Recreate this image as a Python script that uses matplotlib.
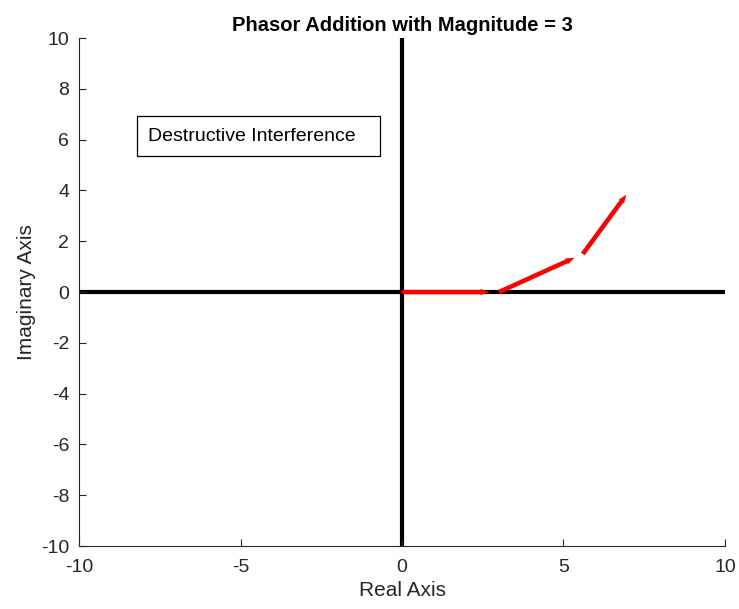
import numpy as np
import matplotlib
matplotlib.use("Agg")
import matplotlib.pyplot as plt
from matplotlib.patches import Rectangle

plt.rcParams['font.family'] = ['Liberation Sans', 'DejaVu Sans']
plt.rcParams['axes.unicode_minus'] = False

# phasors: magnitude and angle (degrees), drawn head-to-tail
magnitudes = [3, 3, 3]
angles_deg = [0, 30, 60]
title = "Phasor Addition with Magnitude = 3"
note = "Destructive Interference"
ticks = [-10, -5, 0, 5, 10]
yticks = list(range(-10, 11, 2))

mag = np.array(magnitudes, dtype=float)
ang = np.deg2rad(angles_deg)
u = mag * np.cos(ang)
v = mag * np.sin(ang)
x0 = np.concatenate([[0], np.cumsum(u)[:-1]])
y0 = np.concatenate([[0], np.cumsum(v)[:-1]])

fig = plt.figure(figsize=(7.39, 6.09), dpi=100)
ax = fig.add_axes([0.107, 0.1034, 0.874, 0.834])

# axes cross
ax.plot([-10, 10], [0, 0], color='black', lw=3, zorder=1)
ax.plot([0, 0], [-10, 10], color='black', lw=3, zorder=1)

# MATLAB quiver autoscale ~0.9
ax.quiver(x0, y0, u, v, angles='xy', scale_units='xy', scale=1 / 0.9,
          color='red', width=0.007, headwidth=1.5, headlength=2.0,
          headaxislength=1.8, zorder=3)

# annotation box
ax.add_patch(Rectangle((-8.2, 5.35), 7.52, 1.58, fc='white', ec='black',
                       lw=0.9, zorder=2))
ax.text(-7.86, 6.14, note, fontsize=14, va='center', ha='left', zorder=4)

ax.set_xlim(-10, 10)
ax.set_ylim(-10, 10)
ax.set_xticks(ticks)
ax.set_yticks(yticks)
ax.tick_params(direction='in', labelsize=14, colors='#262626', length=5)
ax.tick_params(axis='x', pad=9)
ax.tick_params(axis='y', pad=7)
for s in ['top', 'right']:
    ax.spines[s].set_visible(False)
for s in ['left', 'bottom']:
    ax.spines[s].set_color('#262626')
    ax.spines[s].set_linewidth(0.8)

ax.set_xlabel("Real Axis", fontsize=15, color='#262626', labelpad=4)
ax.set_ylabel("Imaginary Axis", fontsize=15, color='#262626', labelpad=4)
ax.set_title(title, fontsize=14.5, fontweight='bold', pad=5)

fig.savefig("out.png", dpi=100)
